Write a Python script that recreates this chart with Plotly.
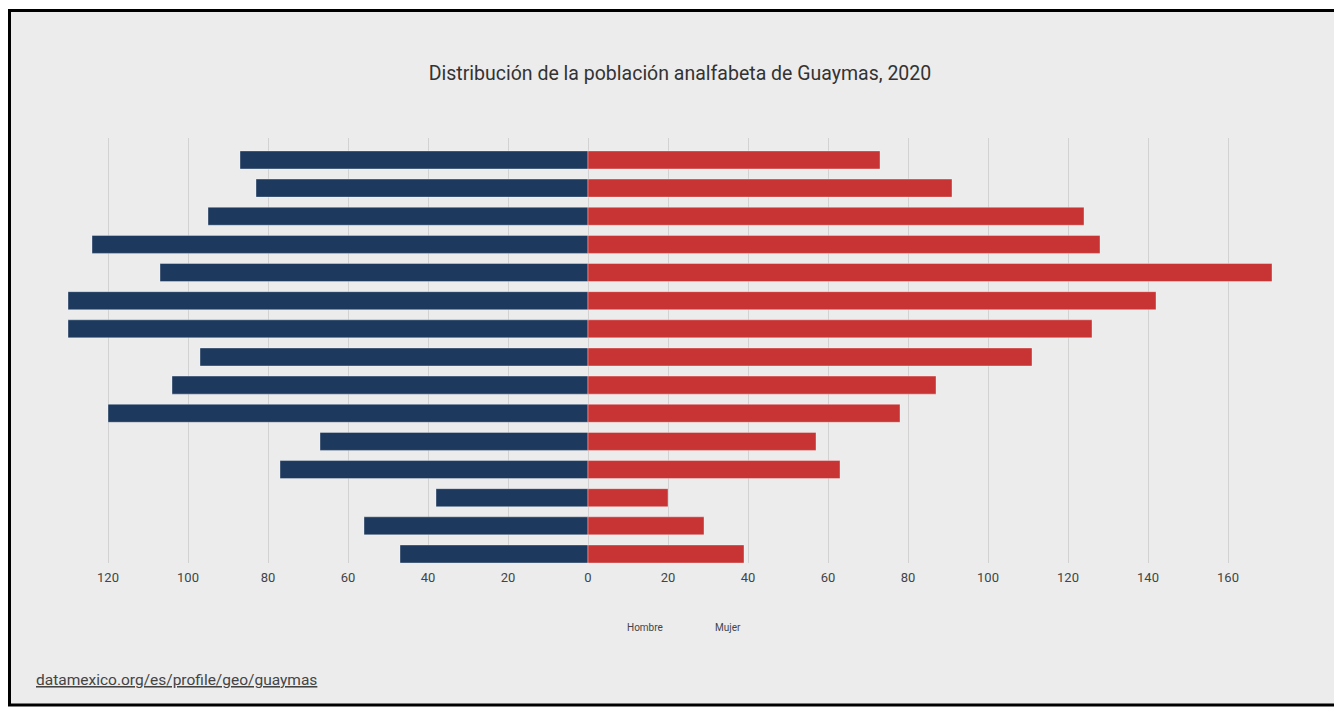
import plotly.graph_objects as go

categories = ["15-19", "20-24", "25-29", "30-34", "35-39", "40-44", "45-49", "50-54",
              "55-59", "60-64", "65-69", "70-74", "75-79", "80-84", "85+"]
hombre = [47, 56, 38, 77, 67, 120, 104, 97, 130, 130, 107, 124, 95, 83, 87]
mujer = [39, 29, 20, 63, 57, 78, 87, 111, 126, 142, 171, 128, 124, 91, 73]
tick_vals = [-120, -100, -80, -60, -40, -20, 0, 20, 40, 60, 80, 100, 120, 140, 160]
tick_text = [str(abs(v)) for v in tick_vals]

FONT = "Roboto, sans-serif"

fig = go.Figure()
fig.add_trace(go.Bar(
    y=categories, x=[-v for v in hombre], orientation="h", name="Hombre",
    marker=dict(color="#1d3a5e", line=dict(color="rgba(255,255,255,0.35)", width=1)),
    hovertemplate="Hombre %{y}: %{customdata}<extra></extra>", customdata=hombre,
))
fig.add_trace(go.Bar(
    y=categories, x=mujer, orientation="h", name="Mujer",
    marker=dict(color="#c83434", line=dict(color="rgba(255,255,255,0.35)", width=1)),
    hovertemplate="Mujer %{y}: %{x}<extra></extra>",
))

OFF = 8  # page body margin
W, H = 1342 - OFF, 712 - OFF
# plot area in page pixels: x 40..1300, y 138..563
ml, mr = 40 - OFF, 1342 - 1300
mt, mb = 138 - OFF, 712 - 563
pw = W - ml - mr
ph = H - mt - mb

def px(xpage):
    return (xpage - OFF - ml) / pw

def py(ypage):
    return (H - mb - (ypage - OFF)) / ph

fig.update_layout(
    width=W, height=H,
    margin=dict(l=ml, r=mr, t=mt, b=mb),
    paper_bgcolor="white",
    plot_bgcolor="rgba(0,0,0,0)",
    barmode="relative",
    bargap=0.36,
    showlegend=False,
    font=dict(family=FONT, color="#444"),
    title=dict(text="Distribución de la población analfabeta de Guaymas, 2020",
               x=px(680), xref="paper", xanchor="center",
               y=1 - (73 - OFF) / H, yanchor="middle",
               font=dict(family=FONT, size=19.5, color="#333")),
    xaxis=dict(range=[-137, 178], tickvals=tick_vals, ticktext=tick_text,
               showgrid=True, gridcolor="#d2d2d2", gridwidth=1, zeroline=False,
               tickfont=dict(family=FONT, size=13, color="#444"),
               ticks="outside", ticklen=2, tickcolor="rgba(0,0,0,0)",
               showline=False, fixedrange=True),
    yaxis=dict(range=[-0.32, 14.78], showticklabels=False, showgrid=False,
               zeroline=False, ticks="", showline=False),
    shapes=[dict(type="rect", xref="paper", yref="paper",
                 x0=px(9.5), x1=px(1360), y0=py(705), y1=py(10.5),
                 line=dict(color="black", width=3), fillcolor="#ececec",
                 layer="below")],
    annotations=[
        dict(text="Hombre", x=px(645), y=py(635), xref="paper", yref="paper",
             showarrow=False, font=dict(family=FONT, size=10, color="#444")),
        dict(text="Mujer", x=px(728), y=py(635), xref="paper", yref="paper",
             showarrow=False, font=dict(family=FONT, size=10, color="#444")),
        dict(text="<u>datamexico.org/es/profile/geo/guaymas</u>", x=px(34), y=py(691),
             xref="paper", yref="paper", xanchor="left", showarrow=False,
             font=dict(family=FONT, size=15.5, color="#444")),
    ],
)

fig.write_html("out.html")
